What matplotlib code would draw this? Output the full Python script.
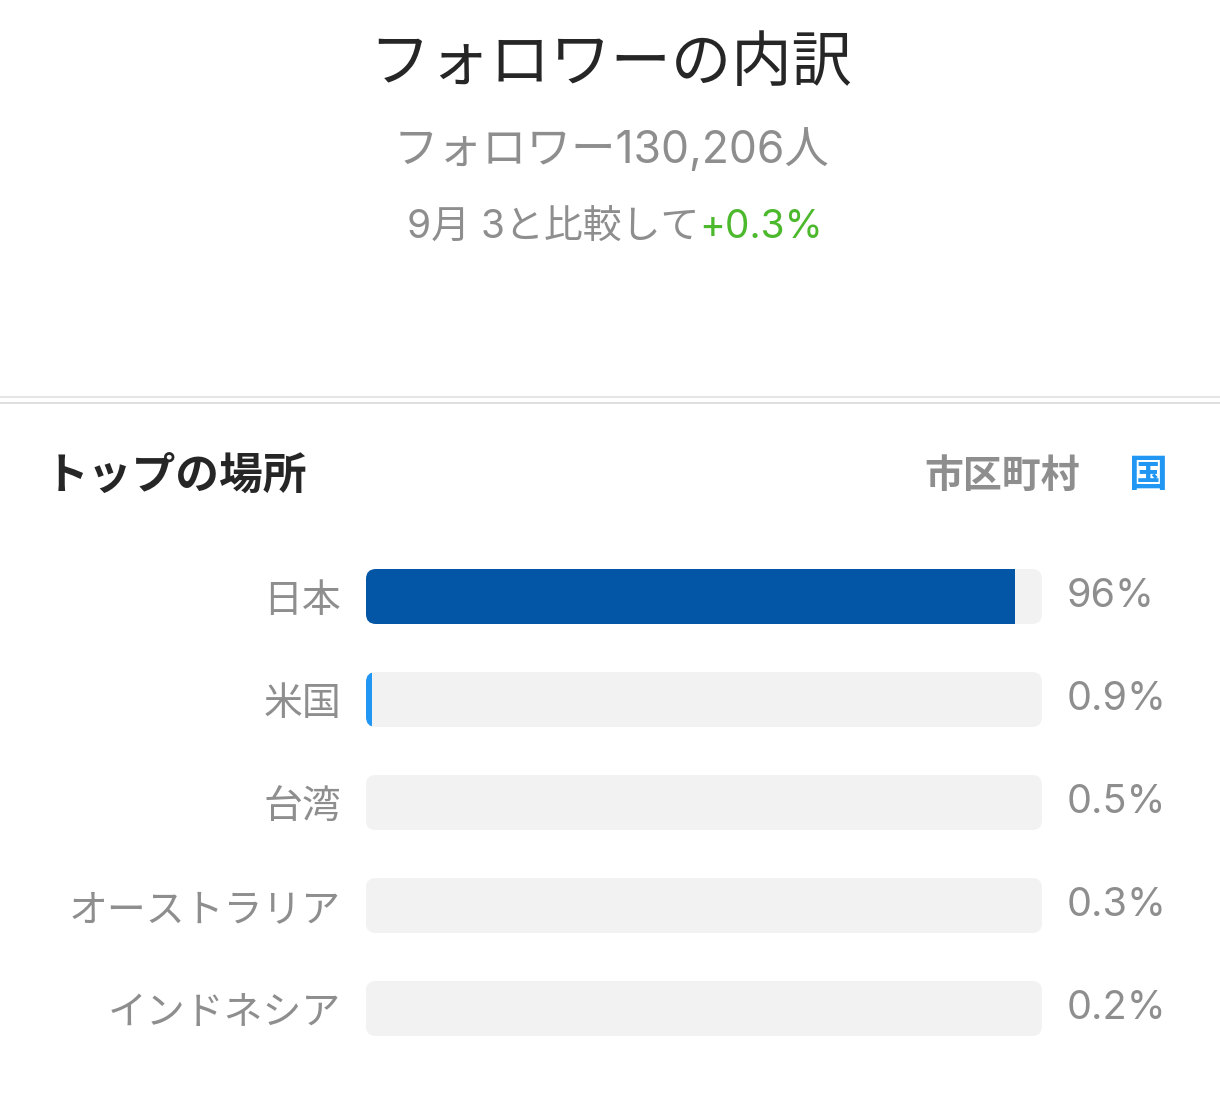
import matplotlib
matplotlib.use("Agg")
import matplotlib.pyplot as plt
from matplotlib.patches import FancyBboxPatch

plt.rcParams['font.family'] = ['Noto Sans CJK JP', 'DejaVu Sans']
NUMFONT = ['Inter', 'Noto Sans CJK JP', 'DejaVu Sans']

# データ
title = 'フォロワーの内訳'
subtitle = 'フォロワー130,206人'
compare_text = '9月 3と比較して'
compare_delta = '+0.3%'
countries = ['日本', '米国', '台湾', 'オーストラリア', 'インドネシア']
shares = [96, 0.9, 0.5, 0.3, 0.2]
share_labels = ['96%', '0.9%', '0.5%', '0.3%', '0.2%']

GRAY = '#8e8e8e'
DARK = '#262626'
TRACK = '#f2f2f2'
bar_colors = ['#0256a5', '#2196f3', TRACK, TRACK, TRACK]

W, H = 1220, 1102
fig = plt.figure(figsize=(W / 100, H / 100), dpi=100)

# 背景用の軸（ピクセル座標）
bg = fig.add_axes([0, 0, 1, 1])
bg.set_xlim(0, W)
bg.set_ylim(H, 0)
bg.axis('off')

bg.text(611, 64, title, ha='center', va='center', fontsize=43.5, color=DARK)
bg.text(611, 150, subtitle, ha='center', va='center', fontsize=32,
        color=GRAY, family=NUMFONT)

# 比較の行（灰色 + 緑）
t1 = bg.text(0, 228, compare_text, ha='left', va='center', fontsize=28,
             color=GRAY, family=NUMFONT)
t2 = bg.text(0, 228, compare_delta, ha='left', va='center', fontsize=28,
             color='#4cb82c', family=NUMFONT)
fig.canvas.draw()
r = fig.canvas.get_renderer()
w1 = t1.get_window_extent(r).width
w2 = t2.get_window_extent(r).width
x0 = 615 - (w1 + w2) / 2
t1.set_x(x0)
t2.set_x(x0 + w1)

# 区切り線
bg.axhline(397, color='#e0e0e0', lw=1.2)
bg.axhline(403, color='#d8d8d8', lw=1.2)

bg.text(45, 476, 'トップの場所', ha='left', va='center', fontsize=31.5,
        fontweight='bold', color=DARK)
bg.text(1080, 476, '市区町村', ha='right', va='center', fontsize=28,
        fontweight='bold', color=GRAY)
bg.text(1168, 476, '国', ha='right', va='center', fontsize=28,
        fontweight='bold', color='#2196f3')

# 棒グラフ
ax = fig.add_axes([366 / W, (H - 1060) / H, 676 / W, 515 / H])
ax.set_xlim(0, 100)
ax.set_ylim(4.5, -0.5)
ypos = list(range(len(countries)))
bh = 55 / 103

tracks = ax.barh(ypos, [100] * len(countries), height=bh, color=TRACK)
pl = ax.bar_label(tracks, labels=share_labels, padding=18, fontsize=28.5,
                  color=GRAY, family=NUMFONT)

# 角丸のトラック
aspect = (10 / 103) / (10 / 6.76)
rounded = []
for rect in tracks:
    x, y = rect.get_xy()
    fb = FancyBboxPatch((x, y), rect.get_width(), rect.get_height(),
                        boxstyle='round,pad=0,rounding_size=1.48',
                        mutation_aspect=aspect, fc=TRACK, ec='none')
    ax.add_patch(fb)
    rect.set_visible(False)
    rounded.append(fb)

bars = ax.barh(ypos, shares, height=bh, color=bar_colors)
for b, fb in zip(bars, rounded):
    b.set_clip_path(fb)

ax.set_yticks(ypos, countries)
ax.tick_params(axis='y', length=0, pad=18, labelsize=28, labelcolor=GRAY)
ax.set_xticks([])
for s in ax.spines.values():
    s.set_visible(False)
ax.patch.set_alpha(0)

fig.savefig('out.png', dpi=100, facecolor='white')
